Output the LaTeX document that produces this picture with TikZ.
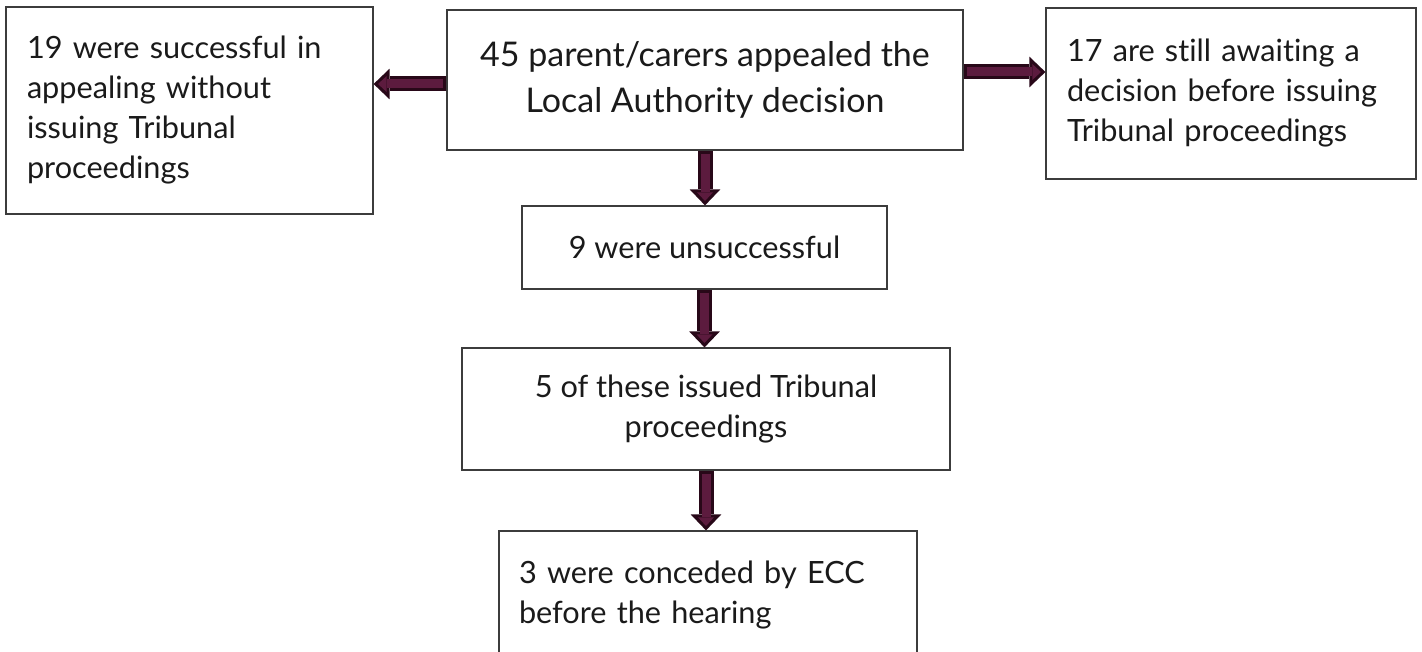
\documentclass[tikz,border=0pt]{standalone}
\usepackage{fontspec}
\setmainfont{Lato}[Ligatures=NoCommon]
\usetikzlibrary{arrows.meta,positioning,calc}
\definecolor{arrowfill}{RGB}{92,27,62}
\definecolor{arrowedge}{RGB}{40,8,24}
\definecolor{boxline}{RGB}{60,60,60}
\definecolor{inktext}{RGB}{26,26,26}

\begin{document}
\begin{tikzpicture}[x=0.75pt,y=-0.75pt,
    bx/.style={draw=boxline,line width=0.9pt,inner sep=0pt,text=inktext,font=\fontsize{23}{30}\selectfont},
    flowarrow/.style={draw=arrowfill,line width=6.75pt,shorten <=2.25pt,shorten >=3.3pt,
      -{Triangle[length=6.5pt,width=12pt,line width=0pt]},
      preaction={draw=arrowedge,line width=11.25pt,shorten <=0pt,shorten >=0pt,
        -{Triangle[length=12pt,width=23pt,line width=0pt]}}}]
  \useasboundingbox (0,0) rectangle (1422,652);
  \clip (0,0) rectangle (1422,652);
  % boxes
  \node[bx,minimum width=387pt,minimum height=105pt,align=center,font=\fontsize{25.5}{34}\selectfont] (appeal) at (705,80)
    {45 parent/carers appealed the\\Local Authority decision};
  \node[bx,minimum width=275.25pt,minimum height=155.25pt,text width=243.75pt,align=left] (success) at (189.5,110.5)
    {19 were successful in\\appealing without\\issuing Tribunal\\proceedings};
  \node[bx,minimum width=277.5pt,minimum height=128.25pt,text width=246pt,align=left] (waiting) at (1231,93.5)
    {17 are still awaiting a\\decision before issuing\\Tribunal proceedings};
  \node[bx,minimum width=273.75pt,minimum height=62.25pt,align=center] (unsucc) at (704.5,247.5)
    {9 were unsuccessful};
  \node[bx,minimum width=366pt,minimum height=91.5pt,align=center] (issued) at (706,409)
    {5 of these issued Tribunal\\proceedings};
  \node[bx,minimum width=313.5pt,minimum height=96pt,text width=283.5pt,align=left] (conceded) at (708,595)
    {3 were conceded by ECC\\before the hearing};
  % block arrows
  \draw[flowarrow] ([yshift=-3pt]appeal.west) -- ([yshift=-3pt]appeal.west -| success.east);
  \draw[flowarrow] ([yshift=6pt]appeal.east) -- ([yshift=6pt]appeal.east -| waiting.west);
  \draw[flowarrow] (appeal.south) -- (appeal.south |- unsucc.north);
  \draw[flowarrow] (unsucc.south) -- (unsucc.south |- issued.north);
  \draw[flowarrow] (issued.south) -- (issued.south |- conceded.north);
\end{tikzpicture}
\end{document}
